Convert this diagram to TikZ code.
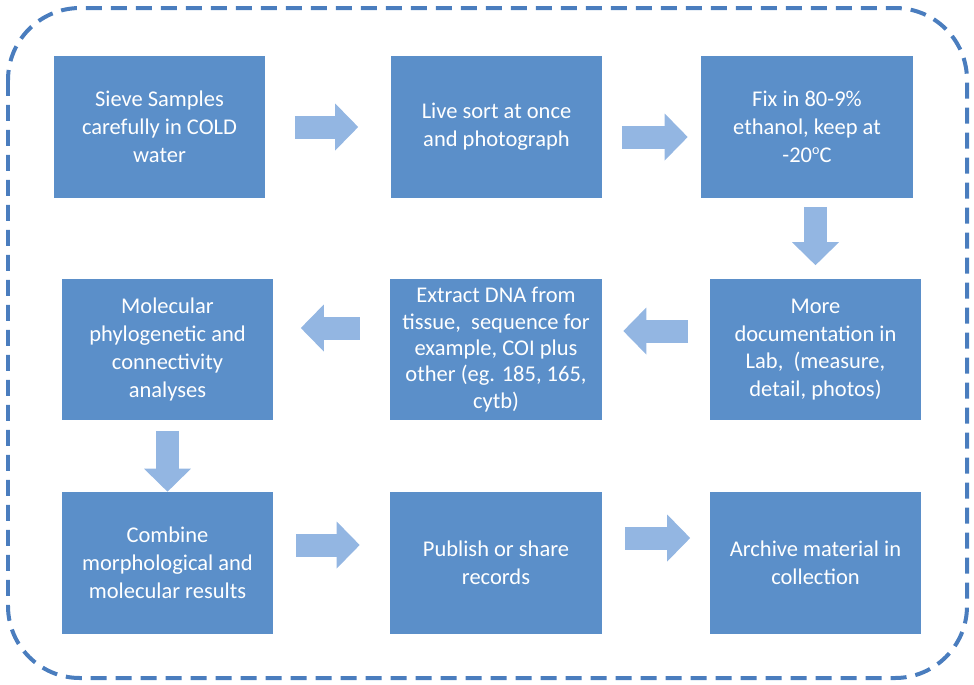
\documentclass[tikz,border=0pt]{standalone}
\usepackage{fontspec}
\setmainfont{Carlito}
\usepackage{xcolor}
\usepackage{tikz}
\usetikzlibrary{arrows.meta,positioning}

\definecolor{boxblue}{HTML}{5B8FC9}
\definecolor{arrowblue}{HTML}{93B6E2}
\definecolor{frameblue}{HTML}{4A7DBE}

\begin{document}
\begin{tikzpicture}[x=0.02cm,y=-0.02cm,
  stage/.style={fill=boxblue,text=white,minimum width=4.24cm,minimum height=2.84cm,
    inner sep=0pt,align=center,font=\fontsize{12.8}{15.8}\selectfont},
  fat/.style={arrowblue,line width=0.46cm,
    -{Triangle[length=0.46cm,width=0.94cm,line width=0pt]}}]
  \useasboundingbox (0,0) rectangle (974,684);
  \draw [frameblue,line width=0.08cm,dash pattern=on 0.32cm off 0.18cm,
    rounded corners=1.44cm] (8,8) rectangle (967,678);

  \node [stage] (sieve) at (159.5,127) {Sieve Samples\\carefully in COLD\\water};
  \node [stage] (sort) at (496.5,127) {Live sort at once\\and photograph};
  \node [stage] (fix) at (807,127) {Fix in 80-9\%\\ethanol, keep at\\-20\raisebox{0.75ex}{\fontsize{8}{8}\selectfont o}C};
  \node [stage] (phylo) at (167.5,349.5) {Molecular\\phylogenetic and\\connectivity\\analyses};
  \node [stage,font=\fontsize{12.8}{15}\selectfont] (dna) at (496,349.5) {Extract DNA from\\tissue,\ \ sequence for\\example, COI plus\\other (eg. 185, 165,\\cytb)};
  \node [stage] (lab) at (815.5,349.5) {More\\documentation in\\Lab,\ \ (measure,\\detail, photos)};
  \node [stage] (combine) at (167.5,563) {Combine\\morphological and\\molecular results};
  \node [stage] (publish) at (496,563) {Publish or share\\records};
  \node [stage] (archive) at (815.5,563) {Archive material in\\collection};

  \draw [fat,shorten <=0.58cm,shorten >=0.64cm] (sieve.east) -- (sort.west);
  \draw [fat,shorten <=0.38cm,shorten >=0.26cm] ([yshift=-0.2cm]sort.east) -- ([yshift=-0.2cm]fix.west);
  \draw [fat,shorten <=0.18cm,shorten >=0.26cm] (fix.south -| lab.north) -- (lab.north);
  \draw [fat,shorten <=0.42cm,shorten >=0.42cm] ([yshift=0.37cm]lab.west) -- ([yshift=0.37cm]dna.east);
  \draw [fat,shorten <=0.6cm,shorten >=0.54cm] ([yshift=0.43cm]dna.west) -- ([yshift=0.43cm]phylo.east);
  \draw [fat,shorten <=0.2cm] (phylo.south) -- (combine.north);
  \draw [fat,shorten <=0.44cm,shorten >=0.6cm] ([yshift=0.36cm]combine.east) -- ([yshift=0.36cm]publish.west);
  \draw [fat,shorten <=0.46cm,shorten >=0.38cm] ([yshift=0.5cm]publish.east) -- ([yshift=0.5cm]archive.west);
\end{tikzpicture}
\end{document}
